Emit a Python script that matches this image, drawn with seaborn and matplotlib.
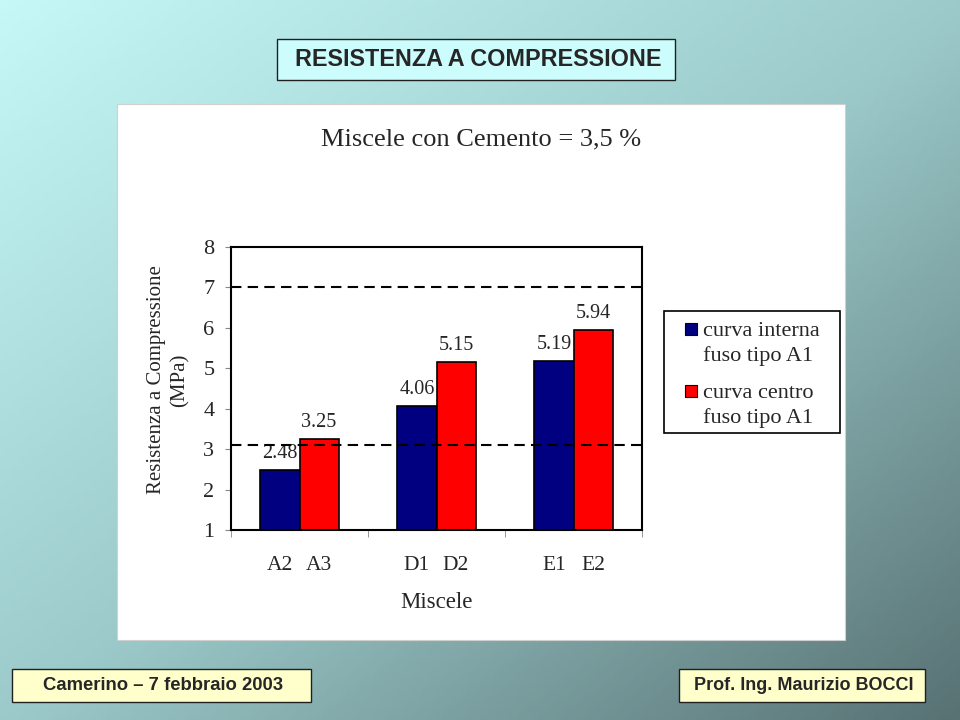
import matplotlib
matplotlib.use("Agg")
import matplotlib.pyplot as plt
import numpy as np
import pandas as pd
import seaborn as sns
from matplotlib.colors import LinearSegmentedColormap
from matplotlib.patches import Rectangle

# data
groups = ["A", "D", "E"]
series = ["curva interna\nfuso tipo A1", "curva centro\nfuso tipo A1"]
labels_interna = ["A2", "D1", "E1"]
labels_centro = ["A3", "D2", "E2"]
values_interna = [2.48, 4.06, 5.19]
values_centro = [3.25, 5.15, 5.94]
limits = [7.0, 3.1]
colors = ["#000080", "#FF0000"]

df = pd.DataFrame({
    "group": groups * 2,
    "serie": [series[0]] * 3 + [series[1]] * 3,
    "value": values_interna + values_centro,
})

sns.set_style("white")
plt.rcParams["font.family"] = ["Liberation Serif", "DejaVu Serif"]

fig = plt.figure(figsize=(9.6, 7.2), dpi=100)

# gradient slide background
bg = fig.add_axes([0, 0, 1, 1], zorder=-10)
xx, yy = np.meshgrid(np.linspace(0, 1, 200), np.linspace(0, 1, 150))
grad = (xx + yy) / 2
cmap = LinearSegmentedColormap.from_list("slide", ["#c6f8f8", "#9ccaca", "#587274"])
bg.imshow(grad, cmap=cmap, aspect="auto", extent=[0, 1, 1, 0])
bg.set_axis_off()

# white chart panel
fig.patches.append(Rectangle((117 / 960, 1 - 640 / 720), 728 / 960, 536 / 720,
                             transform=fig.transFigure, facecolor="white",
                             edgecolor="#d0d0d0", lw=0.8, zorder=-5))

# title box
fig.text(478 / 960, 1 - 60 / 720, "RESISTENZA A COMPRESSIONE", ha="center", va="center",
         fontsize=16.8, fontweight="bold", family=["Liberation Sans", "DejaVu Sans"])
fig.patches.append(Rectangle((277 / 960, 1 - 80 / 720), 398 / 960, 41 / 720,
                             transform=fig.transFigure, facecolor="#ccfcfc",
                             edgecolor="#202020", lw=1.0, zorder=-4))

# footer boxes
sans = ["Liberation Sans", "DejaVu Sans"]
for x0, w, txt, fs in [(12, 299, "Camerino \u2013 7 febbraio 2003", 13.3),
                       (679, 246, "Prof. Ing. Maurizio BOCCI", 13)]:
    fig.patches.append(Rectangle((x0 / 960, 1 - 702 / 720), w / 960, 33 / 720,
                                 transform=fig.transFigure, facecolor="#ffffcc",
                                 edgecolor="#202020", lw=1.0, zorder=-4))
    fig.text((x0 + w / 2 + 2) / 960, 1 - 686 / 720, txt, ha="center", va="center",
             fontsize=fs, fontweight="bold", family=sans)

fig.text(481 / 960, 1 - 139 / 720, "Miscele con Cemento = 3,5 %", ha="center",
         va="center", fontsize=19)

ax = fig.add_axes([231 / 960, 1 - 530 / 720, 411 / 960, 283 / 720])
sns.barplot(data=df, x="group", y="value", hue="serie", palette=colors,
            width=0.57, edgecolor="black", linewidth=1.2, saturation=1,
            legend=False, ax=ax)

for cont in ax.containers:
    ax.bar_label(cont, fmt="%.2f", padding=5, fontsize=14.5)

for lim in limits:
    ax.axhline(lim, color="black", ls=(0, (5, 3)), lw=1.5, zorder=5)

ax.set_ylim(1, 8)
ax.set_yticks(range(1, 9))
ax.tick_params(axis="y", labelsize=16, length=4, color="#888888", pad=8, left=True)

# bar labels under each bar
centers, names = [], []
for cont, labs in zip(ax.containers, [labels_interna, labels_centro]):
    for p, lab in zip(cont.patches, labs):
        centers.append(p.get_x() + p.get_width() / 2)
        names.append(lab)
ax.set_xticks(centers)
ax.set_xticklabels(names)
ax.tick_params(axis="x", which="major", length=0, pad=19, labelsize=15.5)
ax.set_xticks(np.arange(-0.5, len(groups)), minor=True)
ax.tick_params(axis="x", which="minor", length=5, color="#888888", bottom=True)
ax.set_xlim(-0.5, len(groups) - 0.5)

ax.set_xlabel("Miscele", fontsize=16.5, labelpad=12)
ax.set_ylabel("Resistenza a Compressione\n(MPa)", fontsize=15, linespacing=1.3)
ax.yaxis.set_label_coords(-0.1, 0.53)

for s in ax.spines.values():
    s.set_visible(True)
    s.set_color("black")
    s.set_linewidth(1.5)

# legend
fig.patches.append(Rectangle((664 / 960, 1 - 433 / 720), 176 / 960, 122 / 720,
                             transform=fig.transFigure, facecolor="white",
                             edgecolor="black", lw=1.2, zorder=1))
for i, (lab, col) in enumerate(zip(series, colors)):
    ytop = 323 + i * 62
    fig.patches.append(Rectangle((685 / 960, 1 - (ytop + 12) / 720), 12 / 960, 12 / 720,
                                 transform=fig.transFigure, facecolor=col,
                                 edgecolor="black", lw=0.8, zorder=2))
    fig.text(703 / 960, 1 - (ytop + 21) / 720, lab, ha="left", va="center",
             fontsize=16, linespacing=1.4, zorder=3)

fig.savefig("out.png", dpi=100)
